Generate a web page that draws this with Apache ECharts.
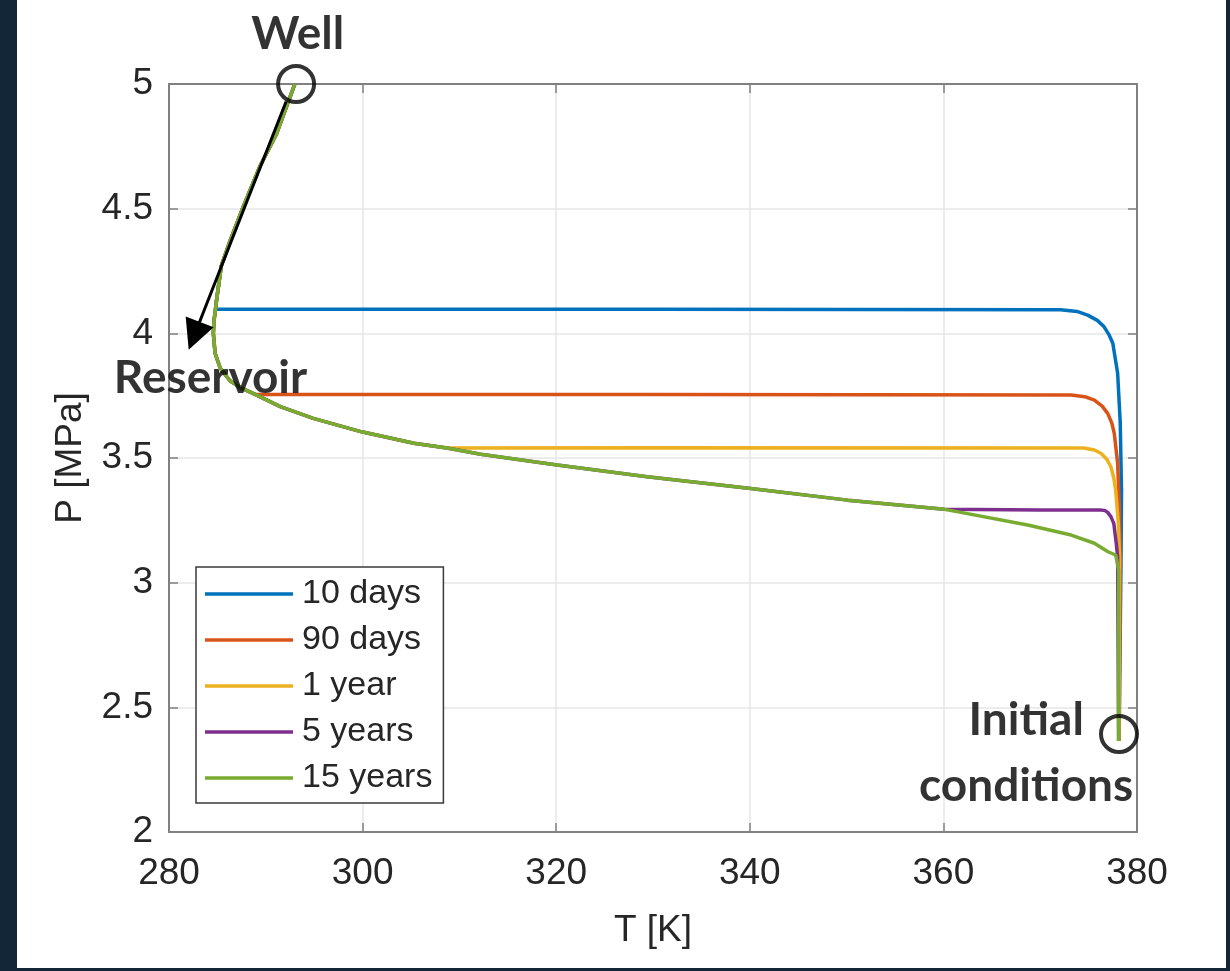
<!DOCTYPE html>
<html><head><meta charset="utf-8">
<script src="https://cdn.jsdelivr.net/npm/echarts@6/dist/echarts.min.js"></script>
<style>
html,body{margin:0;padding:0;background:#122638;width:1230px;height:971px;overflow:hidden}
#bg{position:absolute;left:17px;top:0;width:1209px;height:968px;background:#fff}
#c{position:absolute;left:0;top:0;width:1230px;height:971px}
</style></head><body><div id="bg"></div><div id="c"></div>
<script>
// Series names
const seriesNames = ['10 days', '90 days', '1 year', '5 years', '15 years'];
const seriesColors = ['#0072BD', '#D95319', '#EDB120', '#7E2F8E', '#77AC30'];

// Shared path from the well (T [K], P [MPa])
const wellPath = [[293.0,5.0],[291.1,4.80],[289.4,4.67],[287.7,4.51],[286.3,4.37],[285.4,4.27],[284.9,4.13]];
const reservoirPath = [[284.65,4.05],[284.58,4.0],[284.76,3.92],[285.3,3.86],[286.3,3.81],[287.5,3.78],[288.9,3.755]];
const midPath = [[291.5,3.706],[294.9,3.659],[299.9,3.605],[305.3,3.559],[308.7,3.540]];
const farPath = [[312.2,3.515],[320.1,3.472],[329.4,3.425],[340.1,3.378],[350.1,3.331],[360.1,3.294]];

// Individual branches
const days10 = [[284.85,4.097],[330,4.097],[372.1,4.095],[373.8,4.088],[374.9,4.073],[375.9,4.052],[376.6,4.026],[377.1,3.995],[377.5,3.96],[378.0,3.84],[378.27,3.64],[378.4,3.37],[378.35,3.10],[378.15,2.365]];
const days90 = [[330,3.755],[373.2,3.753],[374.6,3.746],[375.6,3.732],[376.4,3.708],[376.97,3.679],[377.4,3.64],[377.65,3.599],[378.0,3.479],[378.17,3.304],[378.27,3.104],[378.15,2.365]];
const year1 = [[330,3.541],[374.5,3.540],[375.6,3.532],[376.3,3.518],[376.9,3.494],[377.3,3.465],[377.6,3.42],[377.8,3.371],[378.07,3.238],[378.2,3.104],[378.15,2.365]];
const years5 = [[370,3.291],[376.3,3.291],[376.7,3.289],[376.97,3.282],[377.3,3.265],[377.6,3.238],[377.86,3.157],[378.0,3.104],[378.1,2.365]];
const years15Tail = [[361.8,3.282],[368.7,3.231],[373.2,3.191],[375.6,3.158],[377.0,3.124],[377.8,3.111],[378.1,3.05],[378.1,2.365]];

const seriesData = [
  wellPath.concat(days10),
  wellPath.concat(reservoirPath, days90),
  wellPath.concat(reservoirPath, midPath, year1),
  wellPath.concat(reservoirPath, midPath, farPath, years5),
  wellPath.concat(reservoirPath, midPath, farPath, years15Tail)
];

// Annotations
const circleMarks = [[293.13,5.0],[378.14,2.393]];
const textMarks = [
  {name:'Well', value:[293.29,5.20]},
  {name:'Reservoir', value:[284.29,3.821]},
  {name:'Initial\nconditions', value:[368.55,2.318]}
];
const arrowCoords = [[292.1,4.93],[282.6,3.99]];

const xTicks = {min:280, max:380, interval:20};
const yTicks = {min:2, max:5, interval:0.5};

const chart = echarts.init(document.getElementById('c'), null, {renderer:'canvas'});
const axisColor = '#808080';
const labelColor = '#262626';
const font = 'Liberation Sans, Arial, sans-serif';

const lineSeries = seriesNames.map((n,i)=>({
  name:n, type:'line', data:seriesData[i], showSymbol:false, symbol:'none',
  lineStyle:{color:seriesColors[i], width:3.5}, itemStyle:{color:seriesColors[i]},
  z: 2+i, animation:false
}));

chart.setOption({
  animation:false,
  grid:{left:169, right:93, top:84, bottom:139},
  xAxis:[{
    type:'value', min:xTicks.min, max:xTicks.max, interval:xTicks.interval,
    name:'T [K]', nameLocation:'middle', nameGap:80,
    nameTextStyle:{fontFamily:font, fontSize:37, color:labelColor},
    axisLine:{show:true, onZero:false, lineStyle:{color:axisColor, width:2}},
    axisTick:{show:true, inside:true, length:9, lineStyle:{color:axisColor, width:1.5}},
    axisLabel:{fontFamily:font, fontSize:37, color:labelColor, margin:23},
    splitLine:{show:true, lineStyle:{color:'#e6e6e6', width:1.5}}
  },{
    type:'value', position:'top', min:xTicks.min, max:xTicks.max, interval:xTicks.interval,
    axisLine:{show:true, onZero:false, lineStyle:{color:axisColor, width:2}},
    axisTick:{show:true, inside:true, length:9, lineStyle:{color:axisColor, width:1.5}},
    axisLabel:{show:false}, splitLine:{show:false}
  }],
  yAxis:[{
    type:'value', min:yTicks.min, max:yTicks.max, interval:yTicks.interval,
    name:'P [MPa]', nameLocation:'middle', nameGap:80,
    nameTextStyle:{fontFamily:font, fontSize:37, color:labelColor},
    axisLine:{show:true, onZero:false, lineStyle:{color:axisColor, width:2}},
    axisTick:{show:true, inside:true, length:9, lineStyle:{color:axisColor, width:1.5}},
    axisLabel:{fontFamily:font, fontSize:37, color:labelColor, margin:16},
    splitLine:{show:true, lineStyle:{color:'#e6e6e6', width:1.5}}
  },{
    type:'value', position:'right', min:yTicks.min, max:yTicks.max, interval:yTicks.interval,
    axisLine:{show:true, onZero:false, lineStyle:{color:axisColor, width:2}},
    axisTick:{show:true, inside:true, length:9, lineStyle:{color:axisColor, width:1.5}},
    axisLabel:{show:false}, splitLine:{show:false}
  }],
  legend:{
    data:seriesNames, orient:'vertical', left:196, top:567,
    icon:'rect', itemWidth:88, itemHeight:3.5, itemGap:12,
    padding:[10,11,8,9],
    backgroundColor:'#fff', borderColor:'#3a3a3a', borderWidth:1.5, borderRadius:0,
    textStyle:{fontFamily:font, fontSize:34, color:labelColor, padding:[0,0,0,4]}
  },
  series: lineSeries.concat([
    {
      type:'lines', coordinateSystem:'cartesian2d', z:20, animation:false,
      symbol:['none','triangle'], symbolSize:[1,30],
      lineStyle:{color:'#000', width:3, opacity:1},
      data:[{coords:arrowCoords}]
    },
    {
      type:'scatter', data:circleMarks, symbol:'circle', symbolSize:36, clip:false, z:21,
      itemStyle:{color:'rgba(0,0,0,0)', borderColor:'#000', borderWidth:4},
      silent:true
    },
    {
      type:'scatter', data:textMarks, symbolSize:0, clip:false, z:22, silent:true,
      label:{show:true, position:'inside', formatter:'{b}', fontFamily:'Lato', fontWeight:'bold',
        fontSize:46, color:'#000', textBorderWidth:0, lineHeight:66, align:'center'}
    }
  ])
});
</script></body></html>
